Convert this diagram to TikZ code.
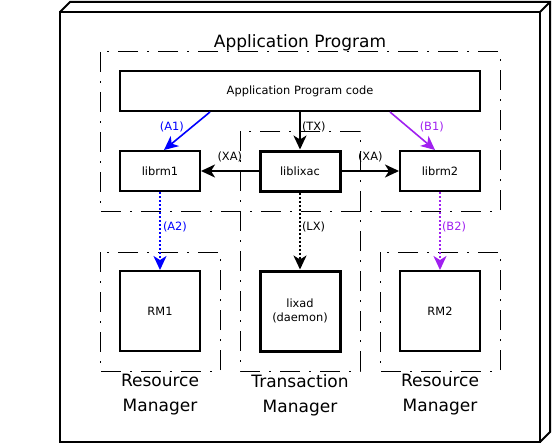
\documentclass[tikz,border=0pt]{standalone}
\usepackage{fontspec}
\setmainfont{DejaVu Sans}
\usetikzlibrary{arrows.meta}
\definecolor{rmpurple}{HTML}{A020F0}

\begin{document}
\begin{tikzpicture}[x=1pt,y=-1pt,
    box/.style={draw, line width=2pt, minimum width=80pt, minimum height=40pt, inner sep=0pt, align=center, font=\fontsize{11.4}{13.5}\selectfont},
    zone/.style={draw, line width=1pt, dash pattern=on 20pt off 9pt on 2pt off 9pt},
    link/.style={line width=2pt, -{Stealth[length=14pt,width=13pt,inset=4pt]}},
    tag/.style={inner sep=1pt, font=\fontsize{11.4}{13.5}\selectfont},
    big/.style={align=center, font=\fontsize{17}{25}\selectfont}]
    \useasboundingbox (0,0) rectangle (552,444);
    \draw[line width=2pt] (60,12) rectangle (540,442);
    \draw[line width=2pt] (60,12) -- (70,2) -- (550,2) -- (550,432) -- (540,442) (540,12) -- (550,2);
    \draw[zone] (100,52) rectangle (500,211);
    \draw[zone] (240,131) rectangle (360,371);
    \draw[zone] (100,252) rectangle (220,371);
    \draw[zone] (380,252) rectangle (500,371);

    \node[big] (title) at (300,43) {Application Program};
    \node[box, minimum width=360pt] (appcode) at (300,91) {Application Program code};
    \node[box] (librm1) at (160,171) {librm1};
    \node[box, line width=3pt] (liblixac) at (300,171) {liblixac};
    \node[box] (librm2) at (440,171) {librm2};
    \node[box, minimum height=80pt] (rm1) at (160,311) {RM1};
    \node[box, minimum height=80pt, line width=3pt] (lixad) at (300,311) {lixad\\(daemon)};
    \node[box, minimum height=80pt] (rm2) at (440,311) {RM2};
    \node[big] (rmname1) at (160,395) {Resource\\Manager};
    \node[big] (tmname) at (300,395) {Transaction\\Manager};
    \node[big] (rmname2) at (440,395) {Resource\\Manager};

    \draw[link, blue, line width=1.6pt] ([xshift=-90pt]appcode.south) -- ([xshift=4pt]librm1.north)
        node[pos=0.4, tag, left=6pt]{(A1)};
    \draw[link] (appcode) -- (liblixac) node[pos=0.4, tag, right]{(TX)};
    \draw[link, rmpurple, line width=1.6pt] ([xshift=90pt]appcode.south) -- ([xshift=-5pt]librm2.north)
        node[pos=0.4, tag, right=10pt]{(B1)};
    \draw[link] (liblixac) -- (librm1) node[midway, tag, above=7pt]{(XA)};
    \draw[link] (liblixac) -- (librm2) node[midway, tag, above=7pt]{(XA)};
    \draw[link, blue, dotted] (librm1) -- (rm1) node[pos=0.45, tag, right=1pt]{(A2)};
    \draw[link, dotted] (liblixac) -- (lixad) node[pos=0.45, tag, right]{(LX)};
    \draw[link, rmpurple, dotted] (librm2) -- (rm2) node[pos=0.45, tag, right]{(B2)};
\end{tikzpicture}
\end{document}
